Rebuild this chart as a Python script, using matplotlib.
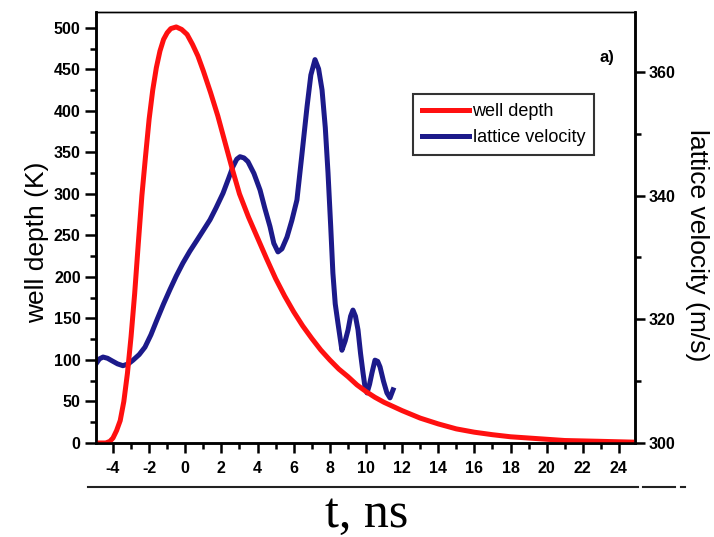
import matplotlib
matplotlib.use("Agg")
import matplotlib.pyplot as plt
from matplotlib.lines import Line2D
from matplotlib.ticker import MultipleLocator

plt.rcParams['font.family'] = ['Liberation Sans', 'DejaVu Sans']
plt.rcParams['axes.unicode_minus'] = False

# well depth (K), left axis
t_depth = [-4.94, -4.4, -4.17, -4.0, -3.8, -3.6, -3.4, -3.2, -3.0, -2.8,
           -2.6, -2.4, -2.2, -2.0, -1.8, -1.6, -1.4, -1.2, -1.0, -0.8,
           -0.5, -0.2, 0.1, 0.4, 0.7, 1.0, 1.4, 1.8, 2.2, 2.6,
           3.0, 3.5, 4.0, 4.5, 5.0, 5.5, 6.0, 6.5, 7.0, 7.5,
           8.0, 8.5, 9.0, 9.5, 10.0, 10.5, 11.0, 11.5, 12.0, 13.0,
           14.0, 15.0, 16.0, 17.0, 18.0, 19.0, 20.0, 21.0, 22.0, 23.0, 24.89]
depth = [0, 0, 2, 6, 15, 27, 50, 84, 128, 180,
         240, 298, 345, 390, 425, 452, 472, 486, 494, 499,
         501, 498, 492, 480, 466, 448, 422, 394, 362, 330,
         300, 272, 247, 222, 198, 177, 158, 141, 126, 112,
         100, 89, 80, 70, 62, 55, 49, 44, 39, 30,
         23, 17, 13, 10, 7.5, 6, 4.5, 3, 2.5, 2, 1]

# lattice velocity (m/s), right axis
t_vel = [-4.94, -4.75, -4.55, -4.3, -4.06, -3.75, -3.45, -3.15, -2.89, -2.55,
         -2.23, -1.9, -1.57, -1.2, -0.85, -0.5, -0.13, 0.25, 0.65, 1.0,
         1.37, 1.7, 2.09, 2.4, 2.64, 2.85, 3.03, 3.25, 3.47, 3.8,
         4.14, 4.4, 4.69, 4.9, 5.13, 5.35, 5.63, 5.9, 6.18, 6.45,
         6.74, 6.95, 7.18, 7.38, 7.57, 7.75, 7.90, 8.05, 8.17, 8.3,
         8.45, 8.67, 8.85, 9.01, 9.15, 9.28, 9.42, 9.56, 9.7, 9.84,
         9.95, 10.06, 10.2, 10.33, 10.5, 10.65, 10.78, 10.97, 11.16, 11.33, 11.5]
velocity = [312.8, 313.6, 313.9, 313.7, 313.3, 312.8, 312.5, 312.8, 313.4, 314.3,
            315.5, 317.5, 319.9, 322.5, 324.8, 327.0, 329.1, 331.0, 332.8, 334.4,
            336.1, 338.0, 340.4, 342.8, 344.7, 345.9, 346.3, 346.1, 345.5, 343.6,
            340.9, 338.0, 335.0, 332.3, 330.9, 331.4, 333.3, 336.0, 339.3, 346.5,
            354.4, 359.5, 362.0, 360.5, 357.1, 351.0, 343.7, 335.0, 327.5, 322.5,
            319.4, 315.0, 316.5, 318.3, 320.5, 321.5, 320.5, 318.3, 314.5, 311.3,
            309.0, 308.1, 309.5, 311.3, 313.4, 313.2, 312.3, 310.0, 308.1, 307.3, 308.6]

red = '#ff1010'
navy = '#1c1a8a'

fig = plt.figure(figsize=(7.14, 5.37), dpi=100)
ax = fig.add_axes([96/714, 1-443/537, 539/714, 431/537])
ax2 = ax.twinx()
ax.set_zorder(ax2.get_zorder() + 1)
ax.patch.set_visible(False)

l1, = ax.plot(t_depth, depth, color=red, lw=3.6, solid_joinstyle='round')
l2, = ax2.plot(t_vel, velocity, color=navy, lw=3.6, solid_joinstyle='round')

ax.set_xlim(-4.94, 24.89)
ax.set_ylim(0, 519)
ax2.set_ylim(300, 369.7)

ax.xaxis.set_major_locator(MultipleLocator(2))
ax.xaxis.set_minor_locator(MultipleLocator(1))
ax.yaxis.set_major_locator(MultipleLocator(50))
ax.yaxis.set_minor_locator(MultipleLocator(25))
ax2.yaxis.set_major_locator(MultipleLocator(20))
ax2.yaxis.set_minor_locator(MultipleLocator(10))

for a in (ax, ax2):
    for s in a.spines.values():
        s.set_linewidth(1.8)
    a.spines['top'].set_linewidth(1.0)
    a.tick_params(which='major', direction='out', length=7, width=1.8,
                  labelsize=11.5, pad=3)
    a.tick_params(which='minor', direction='out', length=4, width=1.8)
    for lab in a.get_xticklabels() + a.get_yticklabels():
        lab.set_fontweight('bold')
ax.tick_params(axis='x', which='major', pad=6)
ax.tick_params(axis='y', which='major', length=8)

fig.text(37/714, 1-242/537, 'well depth (K)', rotation=90, fontsize=19,
         ha='center', va='center')
fig.text(697/714, 1-245/537, 'lattice velocity (m/s)', rotation=270, fontsize=19,
         ha='center', va='center')
fig.text(367/714, 1-527/537, 't, ns', family=['Liberation Serif', 'DejaVu Serif'],
         fontsize=36, ha='center', va='baseline')
ax.text(0.962, 0.895, 'a)', transform=ax.transAxes, fontsize=12,
        fontweight='bold', ha='right', va='center')

# rule under the tick labels
fig.add_artist(Line2D([88/714, 638/714], [1-487/537]*2, color='#222222', lw=1.5))
fig.add_artist(Line2D([643/714, 675/714], [1-487/537]*2, color='#222222', lw=1.5))
fig.add_artist(Line2D([681/714, 685/714], [1-487/537]*2, color='#222222', lw=1.5))

leg = ax.legend([l1, l2], ['well depth', 'lattice velocity'], loc='upper left',
                bbox_to_anchor=(0.588, 0.81), fontsize=13, frameon=True,
                fancybox=False, edgecolor='black', handlelength=2.6,
                handletextpad=0.2, borderpad=0.5, labelspacing=0.5,
                borderaxespad=0)
leg.get_frame().set_linewidth(1.5)

fig.savefig('out.png', dpi=100)
